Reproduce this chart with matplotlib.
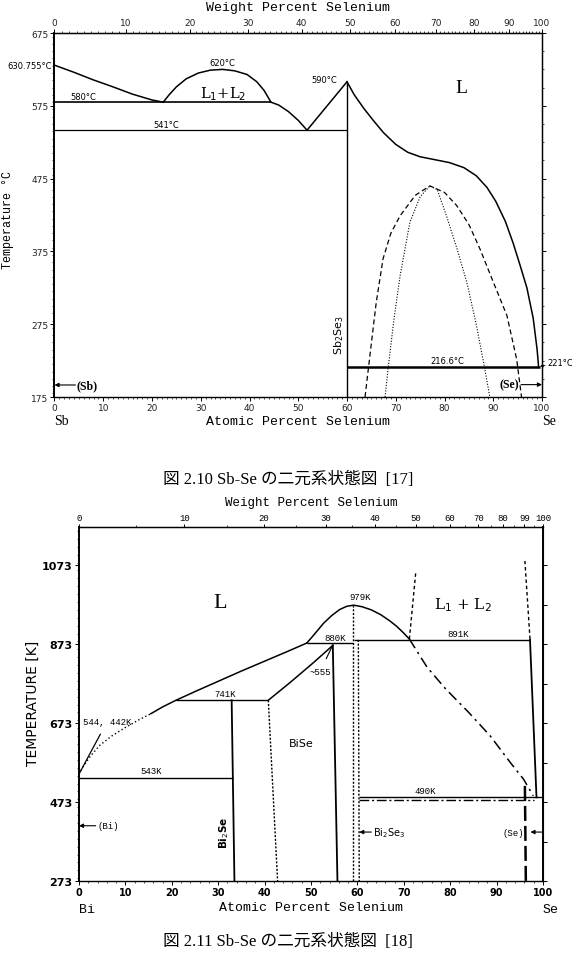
import numpy as np
import matplotlib
matplotlib.use("Agg")
import matplotlib.pyplot as plt
from matplotlib.ticker import MultipleLocator

plt.rcParams["font.family"] = ["DejaVu Sans"]

M_SE, M_SB, M_BI = 78.97, 121.76, 208.98
MONO = "Liberation Mono"
CAPTION_FONT = ["Liberation Serif", "Noto Sans CJK JP"]

# ---------------- Sb-Se (図 2.10), deg C vs at.% Se ----------------
SB_LIQ1_X = [0, 4, 8, 12, 16, 20, 22.3]
SB_LIQ1_T = [630.8, 621, 610.5, 601, 591, 583, 580]
SB_GAP_X = [22.3, 23.5, 25, 27, 29.5, 32, 34.5, 37, 39.5, 41.5, 43, 44.4]
SB_GAP_T = [580, 590, 601, 612, 620, 624, 625, 623, 618, 608, 596, 580]
SB_LIQ2_X = [44.4, 46, 48, 50, 51.8, 60]
SB_LIQ2_T = [580, 576, 567, 555, 541.5, 608]
SB_LIQ3_X = [60, 61.5, 63.5, 65.5, 67.5, 70, 72.5, 75, 78, 81, 84, 86.5,
             88.7, 90.5, 92.5, 94.1, 95.5, 96.9, 98.2, 99.0, 99.3]
SB_LIQ3_T = [608, 590, 571, 554, 538, 522, 511, 505, 501, 497, 490, 479,
             463, 444, 416, 386, 356, 325, 283, 240, 216.6]
SB_DASH_X = [63.7, 64.7, 66, 67.4, 69, 70.9, 74, 77, 80, 82.5, 85, 87.3,
             90, 92.8, 94.8, 95.8]
SB_DASH_T = [175, 232, 305, 365, 400, 424, 452, 465, 456, 438, 412, 378,
             333, 287, 227, 175]
SB_DOT_X = [67.8, 68.5, 69.6, 70.9, 72.9, 75, 77, 78.5, 80.4, 82.5, 84.6,
            86.5, 88, 89.3]
SB_DOT_T = [175, 218, 280, 342, 415, 450, 465, 460, 424, 380, 332, 275,
            223, 175]
SB_ISO_T = [580, 541.5, 216.6]
SB_ISO_X0 = [0, 0, 60]
SB_ISO_X1 = [44.4, 60, 99.6]
SB_COMPOUND_X = 60

# ---------------- Bi-Se (図 2.11), K vs at.% Se ----------------
BI_DOT_X = [0, 1, 2.5, 4.5, 7, 10, 13, 15.5]
BI_DOT_T = [544, 565, 590, 617, 640, 662, 682, 697]
BI_LIQ1_X = [15.5, 18, 20.9, 25, 30, 35, 40, 45, 49.1]
BI_LIQ1_T = [697, 714, 731, 753, 779, 805, 830, 855, 876]
BI_LIQ2_X = [40.8, 45.5, 50.5, 54.7]
BI_LIQ2_T = [731, 776, 826, 870]
BI_DOME_X = [49.1, 50.5, 52.7, 54.5, 56.2, 57.7, 59.2, 61, 63, 65, 67,
             68.5, 70, 71.2]
BI_DOME_T = [876, 895, 926, 946, 961, 969, 972, 968, 960, 948, 932,
             918, 901, 886]
BI_DASHDOT_X = [71.2, 75, 79, 84, 88.6, 92.9, 95.8, 97.9]
BI_DASHDOT_T = [886, 815, 760, 700, 641, 574, 531, 489]
BI_ISO_T = [731, 535, 876, 884, 485]
BI_ISO_X0 = [20.9, 0, 49.1, 59.3, 60.3]
BI_ISO_X1 = [40.8, 33.2, 59.0, 97.2, 99.8]
BI_META_T = 478
BI_META_X = [60.3, 98]
BI_SOLID_V = [([32.9, 33.5], [731, 273]), ([54.7, 55.7], [870, 273]),
              ([97.2, 98.6], [884, 485])]
BI_DOTTED_V = [([40.8, 42.8], [731, 273]), ([59.1, 59.1], [972, 273]),
               ([60.2, 60.4], [884, 273])]
BI_GAP_V = [([71.2, 72.6], [886, 1058]), ([97.2, 96.1], [886, 1084])]
BI_SE_SOLVUS = ([96.1, 96.3], [514, 273])
BI_WT_LABELS = ["0", "10", "20", "30", "40", "50", "60", "70", "80", "99", "100"]


def at_to_wt(a, m_other):
    a = np.clip(np.asarray(a, dtype=float), 0, 100)
    return 100 * a * M_SE / (a * M_SE + (100 - a) * m_other)


def wt_to_at(w, m_other):
    w = np.clip(np.asarray(w, dtype=float), 0, 100)
    return 100 * (w / M_SE) / (w / M_SE + (100 - w) / m_other)


def arrow(ax, tip, tail):
    ax.annotate("", xy=tip, xytext=tail,
                arrowprops=dict(arrowstyle="-|>", lw=0.8, color="k",
                                mutation_scale=6, shrinkA=0, shrinkB=0))


fig = plt.figure(figsize=(5.72, 9.62), dpi=100)

# =========================== top chart ===========================
ax1 = fig.add_axes([54.5 / 572, 1 - 398 / 962, 487.5 / 572, 364 / 962])
lw = 1.1
ax1.plot(SB_LIQ1_X, SB_LIQ1_T, color="k", lw=lw)
ax1.plot(SB_GAP_X, SB_GAP_T, color="k", lw=lw)
ax1.plot(SB_LIQ2_X, SB_LIQ2_T, color="k", lw=lw)
ax1.plot(SB_LIQ3_X, SB_LIQ3_T, color="k", lw=lw)
ax1.plot(SB_DASH_X, SB_DASH_T, color="k", lw=0.9, ls=(0, (4, 2.5)))
ax1.plot(SB_DOT_X, SB_DOT_T, color="k", lw=0.8, ls=(0, (1, 1.5)))
ax1.hlines(SB_ISO_T, SB_ISO_X0, SB_ISO_X1, color="k", lw=[1.2, 0.9, 1.8])
ax1.vlines(SB_COMPOUND_X, 175, max(SB_LIQ2_T), color="k", lw=1.0)

ax1.set_xlim(0, 100)
ax1.set_ylim(175, 675)
ax1.set_xticks(range(0, 101, 10))
ax1.xaxis.set_minor_locator(MultipleLocator(1))
ax1.set_yticks(range(175, 676, 100))
ax1.yaxis.set_minor_locator(MultipleLocator(10))
ax1.tick_params(which="major", labelsize=6.5, length=3, width=0.7, pad=1.5,
                top=False, right=False, labelcolor="#222")
ax1.tick_params(which="minor", length=1.5, width=0.5, top=False, right=False)
for s in ax1.spines.values():
    s.set_linewidth(1.0)
ax1.spines["left"].set_linewidth(1.4)

sx1 = ax1.secondary_xaxis("top", functions=(lambda a: at_to_wt(a, M_SB),
                                            lambda w: wt_to_at(w, M_SB)))
sx1.set_xticks(range(0, 101, 10))
sx1.xaxis.set_minor_locator(MultipleLocator(1))
sx1.tick_params(which="major", labelsize=6.5, length=3, width=0.7, pad=1,
                labelcolor="#222")
sx1.tick_params(which="minor", length=1.5, width=0.5)
sy1 = ax1.secondary_yaxis("right")
sy1.set_yticks(range(175, 676, 100))
sy1.yaxis.set_minor_locator(MultipleLocator(25))
sy1.tick_params(which="major", labelright=False, length=3, width=0.7)
sy1.tick_params(which="minor", length=1.5, width=0.5)

ax1.text(0.5, 1.071, "Weight Percent Selenium", transform=ax1.transAxes,
         ha="center", va="center", family=MONO, fontsize=9.5)
ax1.text(0.5, -0.066, "Atomic Percent Selenium", transform=ax1.transAxes,
         ha="center", va="center", family=MONO, fontsize=9.5)
ax1.text(-0.095, 0.49, "Temperature °C", transform=ax1.transAxes,
         ha="center", va="center", family=MONO, fontsize=8.5, rotation=90)
ax1.text(0, -0.064, "Sb", transform=ax1.get_xaxis_transform(), ha="left",
         va="center", family="Liberation Serif", fontsize=10)
ax1.text(100, -0.064, "Se", transform=ax1.get_xaxis_transform(), ha="left",
         va="center", family="Liberation Serif", fontsize=10)

small = dict(fontsize=6, color="k")
ax1.text(-0.5, 630.8, "630.755°C", ha="right", va="center", **small)
ax1.text(6, 582, "580°C", ha="center", va="bottom", **small)
ax1.text(23, 543.5, "541°C", ha="center", va="bottom", **small)
ax1.text(34.5, 628, "620°C", ha="center", va="bottom", **small)
ax1.text(58, 611, "590°C", ha="right", va="center", **small)
ax1.text(80.5, 219, "216.6°C", ha="center", va="bottom", **small)
ax1.annotate("221°C", xy=(99.6, 217), xytext=(101.2, 223),
             ha="left", va="center", fontsize=6,
             arrowprops=dict(arrowstyle="-|>", lw=0.6, color="k",
                             mutation_scale=4, shrinkA=0, shrinkB=0))
ax1.text(83.5, 600, "L", ha="center", va="center",
         family="Liberation Serif", fontsize=14)
ax1.text(34.5, 593, r"L$_1$+L$_2$", ha="center", va="center",
         family="DejaVu Serif", fontsize=10.5)
ax1.text(58.3, 261, r"Sb$_2$Se$_3$", ha="center", va="center",
         rotation=90, fontsize=8)
arrow(ax1, (0, 191.5), (4.3, 191.5))
ax1.text(4.6, 191.5, "(Sb)", ha="left", va="center",
         family="Liberation Serif", fontsize=8.5, fontweight="bold")
arrow(ax1, (100, 192), (95.7, 192))
ax1.text(95.3, 192, "(Se)", ha="right", va="center",
         family="Liberation Serif", fontsize=8.5, fontweight="bold")

# =========================== bottom chart ===========================
ax2 = fig.add_axes([79 / 572, 1 - 882 / 962, 464 / 572, 354 / 962])
ax2.plot(BI_DOT_X, BI_DOT_T, color="k", lw=1.0, ls=(0, (1, 1.8)))
ax2.plot(BI_LIQ1_X, BI_LIQ1_T, color="k", lw=lw)
ax2.plot(BI_LIQ2_X, BI_LIQ2_T, color="k", lw=lw)
ax2.plot(BI_DOME_X, BI_DOME_T, color="k", lw=lw)
ax2.plot(BI_DASHDOT_X, BI_DASHDOT_T, color="k", lw=1.1, ls=(0, (7, 3, 1.5, 3)))
ax2.hlines(BI_ISO_T, BI_ISO_X0, BI_ISO_X1, color="k", lw=1.0)
ax2.hlines(BI_META_T, *BI_META_X, color="k", lw=1.0, ls=(0, (7, 2, 1.5, 2)))
for xs, ts in BI_SOLID_V:
    ax2.plot(xs, ts, color="k", lw=1.3)
for xs, ts in BI_DOTTED_V:
    ax2.plot(xs, ts, color="k", lw=1.0, ls=(0, (1.5, 1.2)))
for xs, ts in BI_GAP_V:
    ax2.plot(xs, ts, color="k", lw=1.0, ls=(0, (2.5, 2)))
ax2.plot(*BI_SE_SOLVUS, color="k", lw=1.8, ls=(0, (6, 2)))

ax2.set_xlim(0, 100)
ax2.set_ylim(273, 1170)
ax2.set_xticks(range(0, 101, 10))
ax2.xaxis.set_minor_locator(MultipleLocator(2))
ax2.set_yticks(range(273, 1074, 200))
ax2.yaxis.set_minor_locator(MultipleLocator(20))
ax2.tick_params(which="major", length=3, width=0.7, pad=1.5,
                top=False, right=False)
ax2.tick_params(axis="x", labelsize=7)
ax2.tick_params(axis="y", labelsize=8)
ax2.tick_params(which="minor", length=1.5, width=0.5, top=False, right=False)
for lab in ax2.get_xticklabels() + ax2.get_yticklabels():
    lab.set_fontweight("bold")
for s in ax2.spines.values():
    s.set_linewidth(1.0)
ax2.spines["left"].set_linewidth(1.4)
ax2.spines["right"].set_linewidth(1.4)

sx2 = ax2.secondary_xaxis("top", functions=(lambda a: at_to_wt(a, M_BI),
                                            lambda w: wt_to_at(w, M_BI)))
sx2.set_xticks(range(0, 101, 10), labels=BI_WT_LABELS)
sx2.xaxis.set_minor_locator(MultipleLocator(5))
sx2.tick_params(which="major", labelsize=6.5, length=2.5, width=0.7, pad=1)
sx2.tick_params(which="minor", length=1.2, width=0.5)
for lab in sx2.get_xticklabels():
    lab.set_family(MONO)
sy2 = ax2.secondary_yaxis("right")
sy2.set_yticks(range(273, 1170, 100))
sy2.tick_params(labelright=False, length=3, width=0.7)

ax2.text(0.5, 1.071, "Weight Percent Selenium", transform=ax2.transAxes,
         ha="center", va="center", family=MONO, fontsize=9)
ax2.text(0.5, -0.073, "Atomic Percent Selenium", transform=ax2.transAxes,
         ha="center", va="center", family=MONO, fontsize=9.5)
ax2.text(-0.099, 0.506, "TEMPERATURE [K]", transform=ax2.transAxes,
         ha="center", va="center", fontsize=10, rotation=90)
ax2.text(0, -0.079, "Bi", transform=ax2.get_xaxis_transform(), ha="left",
         va="center", family=MONO, fontsize=9.5)
ax2.text(100, -0.079, "Se", transform=ax2.get_xaxis_transform(), ha="left",
         va="center", family=MONO, fontsize=9.5)

lbl = dict(family=MONO, fontsize=6.5)
ax2.text(60.6, 982, "979K", ha="center", va="bottom", **lbl)
ax2.text(55.3, 878, "880K", ha="center", va="bottom", **lbl)
ax2.text(81.7, 890, "891K", ha="center", va="bottom", **lbl)
ax2.text(31.5, 737, "741K", ha="center", va="bottom", **lbl)
ax2.text(15.5, 541, "543K", ha="center", va="bottom", **lbl)
ax2.text(74.6, 491, "490K", ha="center", va="bottom", **lbl)
ax2.annotate("544, 442K", xy=(0, 544), xytext=(0.8, 676), ha="left",
             va="center", arrowprops=dict(arrowstyle="-", lw=0.9, color="k",
                                          shrinkA=4, shrinkB=0), **lbl)
ax2.annotate("~555", xy=(54.7, 871), xytext=(52, 805), ha="center",
             va="center", arrowprops=dict(arrowstyle="-", lw=0.8, color="k",
                                          shrinkA=4, shrinkB=0), **lbl)
ax2.text(30.4, 979, "L", ha="center", va="center",
         family="Liberation Serif", fontsize=16)
ax2.text(82.8, 974, r"L$_1$ + L$_2$", ha="center", va="center",
         family="DejaVu Serif", fontsize=11)
ax2.text(48, 622, "BiSe", ha="center", va="center", fontsize=8)
ax2.text(31.2, 397, r"Bi$_2$Se", ha="center", va="center", rotation=90,
         fontsize=7.5, fontweight="bold")
arrow(ax2, (0, 413), (3.6, 413))
ax2.text(3.9, 413, "(Bi)", ha="left", va="center", **lbl)
arrow(ax2, (60.4, 397), (63, 397))
ax2.text(63.3, 397, r"Bi$_2$Se$_3$", ha="left", va="center", fontsize=7)
arrow(ax2, (97.3, 397), (100, 397))
ax2.text(95.8, 397, "(Se)", ha="right", va="center", **lbl)

# =========================== captions ===========================
fig.text(0.503, 1 - 480 / 962, "図 2.10 Sb-Se の二元系状態図  [17]",
         ha="center", va="center", family=CAPTION_FONT, fontsize=12)
fig.text(0.503, 1 - 942 / 962, "図 2.11 Sb-Se の二元系状態図  [18]",
         ha="center", va="center", family=CAPTION_FONT, fontsize=12)

fig.savefig("out.png", dpi=100, facecolor="white")
